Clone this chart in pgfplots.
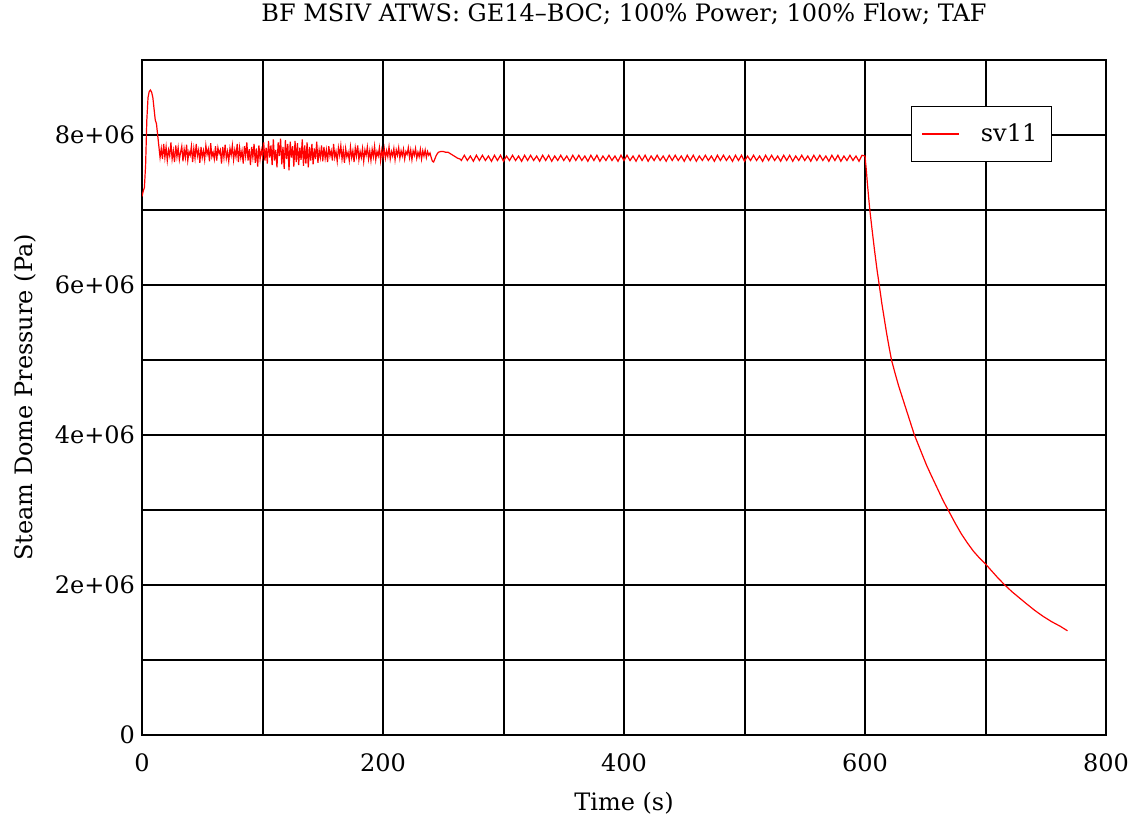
\documentclass[border=0pt]{standalone}
\usepackage{fontspec}
\setmainfont{DejaVu Serif}
\usepackage{pgfplots}
\pgfplotsset{compat=1.18}

\begin{document}
\begin{tikzpicture}
\begin{axis}[
    name=ax,
    scale only axis,
    width=482pt, height=337.5pt,
    font=\fontsize{12}{14}\selectfont,
    /pgf/number format/assume math mode=true,
    xmin=0, xmax=800, ymin=0, ymax=9,
    xtick={0,200,...,800}, minor xtick={100,300,500,700},
    ytick={0,2,4,6,8}, yticklabels={0,2e+06,4e+06,6e+06,8e+06},
    minor ytick={1,3,5,7},
    grid=both,
    major grid style={black, line width=1pt},
    minor grid style={black, line width=1pt},
    axis line style={black, line width=1pt},
    tick style={black, line width=1pt},
    major tick length=0pt, minor tick length=0pt,
    xticklabel style={yshift=-6pt},
    title={BF MSIV ATWS: GE14–BOC; 100\% Power; 100\% Flow; TAF},
    title style={yshift=8pt},
    xlabel={Time (s)},
    ylabel={Steam Dome Pressure (Pa)},
    xlabel style={at={(axis description cs:0.5,-0.1007)}, anchor=center},
    ylabel style={at={(axis description cs:-0.1214,0.5)}, anchor=center},
    legend style={at={(0.7977,0.9319)}, anchor=north west, draw=black,
        line width=0.7pt, inner xsep=5pt, inner ysep=6.5pt, column sep=8.5pt,
        font=\fontsize{12}{14}\selectfont},
    legend image code/.code={\draw[red, line width=0.6pt] (0pt,0pt) -- (18.5pt,0pt);},
]
\addplot[red, line width=0.6pt] coordinates {
(0,7.18)(1,7.25)(2,7.3)(3,7.6)(4,8.2)(5,8.5)(6,8.58)(7,8.6)(8,8.57)(9,8.5)
(10,8.35)(11,8.2)(12,8.15)(13,8.0)(14,7.85)(15,7.7)
(16,7.82)(17,7.68)(18,7.88)(19,7.70)(20,7.84)(21,7.66)(22,7.80)(23,7.72)(24,7.90)(25,7.68)
(26,7.79)(27,7.64)(28,7.86)(29,7.71)(30,7.83)(31,7.67)(32,7.77)(33,7.85)(34,7.65)(35,7.81)
(36,7.70)(37,7.87)(38,7.66)(39,7.78)(40,7.73)(41,7.85)(42,7.64)(43,7.82)(44,7.69)(45,7.88)
(46,7.72)(47,7.80)(48,7.63)(49,7.84)(50,7.70)(51,7.79)(52,7.67)(53,7.86)(54,7.74)(55,7.81)
(56,7.65)(57,7.89)(58,7.71)(59,7.77)(60,7.68)(61,7.85)(62,7.66)(63,7.83)(64,7.75)(65,7.80)
(66,7.62)(67,7.84)(68,7.70)(69,7.87)(70,7.69)(71,7.78)(72,7.65)(73,7.82)(74,7.73)(75,7.86)
(76,7.67)(77,7.80)(78,7.71)(79,7.88)(80,7.64)(81,7.83)(82,7.70)(83,7.79)(84,7.62)(85,7.85)
(86,7.72)(87,7.90)(88,7.66)(89,7.81)(90,7.60)(91,7.84)(92,7.70)(93,7.88)(94,7.63)(95,7.82)
(96,7.58)(97,7.86)(98,7.68)(99,7.80)(100,7.71)(101,7.90)(102,7.66)(103,7.83)(104,7.62)(105,7.92)
(106,7.70)(107,7.86)(108,7.60)(109,7.94)(110,7.66)(111,7.80)(112,7.57)(113,7.90)(114,7.72)(115,7.95)
(116,7.61)(117,7.84)(118,7.55)(119,7.93)(120,7.68)(121,7.88)(122,7.53)(123,7.91)(124,7.70)(125,7.85)
(126,7.58)(127,7.92)(128,7.64)(129,7.89)(130,7.60)(131,7.83)(132,7.67)(133,7.94)(134,7.59)(135,7.86)
(136,7.62)(137,7.90)(138,7.57)(139,7.84)(140,7.66)(141,7.88)(142,7.61)(143,7.82)(144,7.68)(145,7.91)
(146,7.63)(147,7.80)(148,7.70)(149,7.86)(150,7.65)(151,7.84)(152,7.69)(153,7.80)(154,7.64)(155,7.85)
(156,7.72)(157,7.79)(158,7.66)(159,7.88)(160,7.70)(161,7.78)(162,7.65)(163,7.83)(164,7.73)(165,7.86)
(166,7.68)(167,7.80)(168,7.63)(169,7.82)(170,7.71)(171,7.77)(172,7.66)(173,7.84)(174,7.70)(175,7.79)
(176,7.64)(177,7.83)(178,7.72)(179,7.86)(180,7.67)(181,7.78)(182,7.70)(183,7.82)(184,7.65)(185,7.80)
(186,7.73)(187,7.84)(188,7.68)(189,7.79)(190,7.66)(191,7.81)(192,7.71)(193,7.85)(194,7.67)(195,7.78)
(196,7.72)(197,7.83)(198,7.66)(199,7.80)(200,7.70)(201,7.82)(202,7.69)(203,7.79)(204,7.71)(205,7.84)
(206,7.68)(207,7.78)(208,7.72)(209,7.82)(210,7.67)(211,7.80)(212,7.73)(213,7.83)(214,7.69)(215,7.79)
(216,7.72)(217,7.81)(218,7.68)(219,7.78)(220,7.74)(221,7.83)(222,7.70)(223,7.80)(224,7.67)(225,7.79)
(226,7.73)(227,7.82)(228,7.69)(229,7.77)(230,7.71)(231,7.81)(232,7.68)(233,7.79)(234,7.72)(235,7.80)
(236,7.70)(237,7.78)(238,7.73)(239,7.76)(240,7.70)(241,7.65)(242,7.64)(243,7.68)(244,7.72)(245,7.75)
(246,7.77)(248,7.78)(250,7.78)(252,7.77)(254,7.77)(256,7.75)(258,7.73)(260,7.71)(262,7.69)(264,7.68)
(265,7.66)(267.5,7.73)(270,7.66)(272.5,7.72)(275,7.65)(277.5,7.73)(280,7.66)(282.5,7.73)
(285,7.66)(287.5,7.72)(290,7.65)(292.5,7.73)(295,7.66)(297.5,7.73)(300,7.65)(302.5,7.72)
(305,7.66)(307.5,7.73)(310,7.66)(312.5,7.72)(315,7.65)(317.5,7.73)(320,7.66)(322.5,7.73)
(325,7.66)(327.5,7.72)(330,7.65)(332.5,7.73)(335,7.66)(337.5,7.73)(340,7.65)(342.5,7.72)
(345,7.66)(347.5,7.73)(350,7.66)(352.5,7.72)(355,7.65)(357.5,7.73)(360,7.66)(362.5,7.73)
(365,7.66)(367.5,7.72)(370,7.65)(372.5,7.73)(375,7.66)(377.5,7.73)(380,7.65)(382.5,7.72)
(385,7.66)(387.5,7.73)(390,7.66)(392.5,7.72)(395,7.65)(397.5,7.73)(400,7.66)(402.5,7.73)
(405,7.66)(407.5,7.72)(410,7.65)(412.5,7.73)(415,7.66)(417.5,7.73)(420,7.65)(422.5,7.72)
(425,7.66)(427.5,7.73)(430,7.66)(432.5,7.72)(435,7.65)(437.5,7.73)(440,7.66)(442.5,7.73)
(445,7.66)(447.5,7.72)(450,7.65)(452.5,7.73)(455,7.66)(457.5,7.73)(460,7.65)(462.5,7.72)
(465,7.66)(467.5,7.73)(470,7.66)(472.5,7.72)(475,7.65)(477.5,7.73)(480,7.66)(482.5,7.73)
(485,7.66)(487.5,7.72)(490,7.65)(492.5,7.73)(495,7.66)(497.5,7.73)(500,7.65)(502.5,7.72)
(505,7.66)(507.5,7.73)(510,7.66)(512.5,7.72)(515,7.65)(517.5,7.73)(520,7.66)(522.5,7.73)
(525,7.66)(527.5,7.72)(530,7.65)(532.5,7.73)(535,7.66)(537.5,7.73)(540,7.65)(542.5,7.72)
(545,7.66)(547.5,7.73)(550,7.66)(552.5,7.72)(555,7.65)(557.5,7.73)(560,7.66)(562.5,7.73)
(565,7.66)(567.5,7.72)(570,7.65)(572.5,7.73)(575,7.66)(577.5,7.73)(580,7.65)(582.5,7.72)
(585,7.66)(587.5,7.73)(590,7.66)(592.5,7.72)(595,7.65)(597.5,7.73)
(600,7.72)(601,7.55)(602,7.35)(603,7.17)(604,7.0)(606,6.72)(608,6.45)(610,6.2)(612,5.98)(614,5.75)
(616,5.55)(618,5.35)(620,5.17)(622,5.0)(625,4.82)(628,4.65)(631,4.50)(634,4.35)(637,4.2)(641,4.0)
(645,3.84)(651,3.6)(655,3.46)(660,3.29)(665,3.12)(669,3.0)(675,2.82)(680,2.68)(685,2.56)(690,2.45)
(695,2.36)(700,2.28)(705,2.19)(710,2.10)(716,2.0)(722,1.91)(728,1.83)(734,1.75)(741,1.66)(748,1.58)
(755,1.51)(762,1.45)(768,1.39)
};
\addlegendentry{sv11}
\end{axis}
\pgfresetboundingbox
\path ([xshift=-71pt,yshift=-43pt]ax.south west) rectangle ([xshift=15.5pt,yshift=30pt]ax.north east);
\end{tikzpicture}
\end{document}
